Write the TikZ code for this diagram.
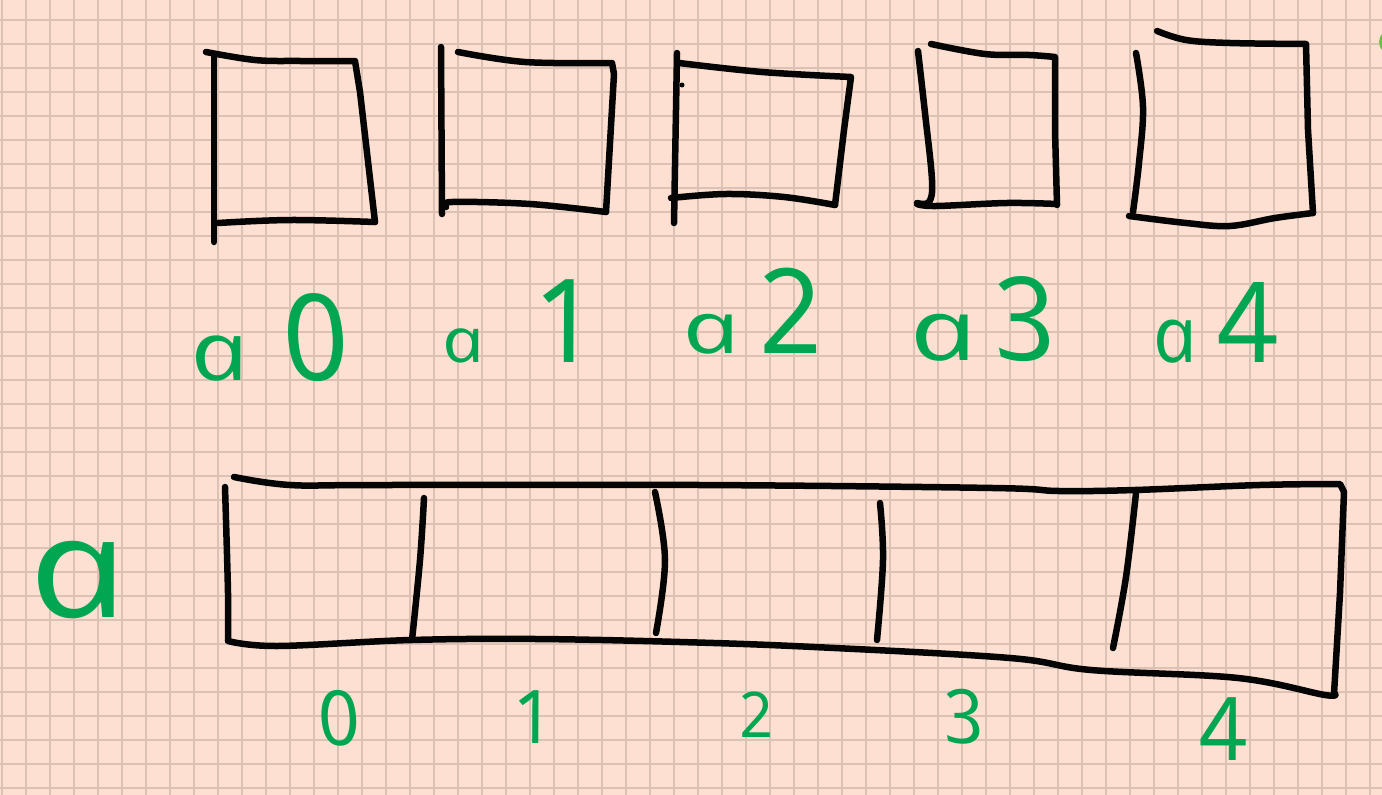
\documentclass[tikz,border=0pt]{standalone}
\usepackage{graphicx}
\usepackage{fontspec}
\setmainfont{Open Sans}[ItalicFeatures={FakeSlant=-0.21}]
\definecolor{paper}{HTML}{FDE0D2}
\definecolor{gridc}{HTML}{DCC2B5}
\definecolor{ink}{HTML}{050505}
\definecolor{pen}{HTML}{00A651}
\definecolor{knob}{HTML}{6DBE45}
\newcommand{\wa}[1]{\scalebox{#1}[1]{a}}
\begin{document}
\begin{tikzpicture}[x=1pt,y=-1pt,
  stroke/.style={draw=ink, line width=6.5pt, line cap=round, line join=round},
  gridline/.style={draw=gridc, line width=1.6pt},
  lbl/.style={text=pen, inner sep=0pt, outer sep=0pt, font=\itshape}]
\fill[paper] (0,0) rectangle (1382,795);
\useasboundingbox (0,0) rectangle (1382,795);
% grid paper
\foreach \x in {2,26,...,1382} \draw[gridline] (\x,0) -- (\x,795);
\foreach \y in {20,44,...,795} \draw[gridline] (0,\y) -- (1382,\y);
% partial control at right edge
\fill[knob] (1392,42) circle (13);

% ---------- top: five separate boxes ----------
% a0
\draw[stroke] (214,57) -- (214,242);
\draw[stroke] plot[smooth,tension=0.6] coordinates {(206,52) (255,60) (300,61) (355,61)} -- (360,92) -- (375,222);
\draw[stroke] plot[smooth,tension=0.6] coordinates {(218,223) (290,220) (375,222)};
% a1
\draw[stroke] (441,47) -- (442,214);
\draw[stroke] plot[smooth,tension=0.6] coordinates {(458,52) (525,62) (612,63)} -- (614,74) -- (606,212);
\draw[stroke] plot[smooth,tension=0.6] coordinates {(446,207) (452,202) (530,204) (606,212)};
% a2
\draw[stroke] (677,53) -- (674,223);
\draw[stroke] plot[smooth,tension=0.6] coordinates {(679,63) (762,72) (851,77)} -- (844,130) -- (835,205);
\draw[stroke] plot[smooth,tension=0.6] coordinates {(671,198) (726,194) (784,197) (835,205)};
\fill[ink] (682,85) circle (2.5);
% a3
\draw[stroke] plot[smooth,tension=0.6] coordinates {(918,51) (925,113) (932,180) (929,202) (917,203)};
\draw[stroke] plot[smooth,tension=0.6] coordinates {(931,44) (985,54) (1029,55) (1055,57)} -- (1055,130) -- (1057,205);
\draw[stroke] plot[smooth,tension=0.6] coordinates {(917,204) (936,206) (1007,203) (1057,204)};
% a4
\draw[stroke] plot[smooth,tension=0.6] coordinates {(1136,53) (1143,107) (1139,163) (1133,212)};
\draw[stroke] plot[smooth,tension=0.6] coordinates {(1157,31) (1186,40) (1230,43) (1306,44)} -- (1308,130) -- (1313,213);
\draw[stroke] plot[smooth,tension=0.6] coordinates {(1129,216) (1186,223) (1230,226) (1275,218) (1313,213)};

% top labels
\node[lbl, anchor=base west] (la0) at (196,380)
  {\fontsize{82}{82}\selectfont \wa{1.25}\hspace{36pt}\fontsize{120}{120}\selectfont 0};
\node[lbl, anchor=base west] (la1) at (446,362)
  {\fontsize{62}{62}\selectfont \wa{1.2}\hspace{52pt}\fontsize{116}{116}\selectfont 1};
\node[lbl, anchor=base west] (la2) at (688,353)
  {\fontsize{72}{72}\selectfont \wa{1.4}\hspace{19pt}\fontsize{118}{118}\selectfont 2};
\node[lbl, anchor=base west] (la3) at (916,360)
  {\fontsize{85}{85}\selectfont \wa{1.4}\hspace{16pt}\fontsize{116}{116}\selectfont 3};
\node[lbl, anchor=base west] (la4) at (1157,362)
  {\fontsize{78}{78}\selectfont \wa{1.0}\hspace{21pt}\fontsize{112}{112}\selectfont 4};

% ---------- bottom: array a ----------
\draw[stroke] plot[smooth,tension=0.6] coordinates {(225,487) (228,593) (228,640)};
\draw[stroke] plot[smooth,tension=0.6] coordinates {(234,477) (290,485) (379,485) (700,485) (993,488) (1059,491) (1135,490) (1260,485) (1340,484)}
  -- (1344,492) -- (1340,593) -- (1334,694);
\draw[stroke] plot[smooth,tension=0.6] coordinates {(228,641) (277,646) (411,640) (536,639) (680,642) (814,647) (1010,658) (1091,670) (1238,678) (1325,695) (1334,693)};
% dividers
\draw[stroke] plot[smooth,tension=0.6] coordinates {(424,498) (420,560) (412,640)};
\draw[stroke] plot[smooth,tension=0.6] coordinates {(655,492) (665,560) (656,633)};
\draw[stroke] plot[smooth,tension=0.6] coordinates {(880,503) (883,560) (877,640)};
\draw[stroke] plot[smooth,tension=0.6] coordinates {(1136,493) (1126,577) (1113,648)};

% bottom labels
\node[lbl, anchor=base west] (la) at (38,617) {\fontsize{140}{140}\selectfont \wa{1.25}};
\node[lbl, anchor=base] (i0) at (343,745) {\fontsize{76}{76}\selectfont 0};
\node[lbl, anchor=base] (i1) at (538,743) {\fontsize{74}{74}\selectfont 1};
\node[lbl, anchor=base] (i2) at (760,737) {\fontsize{63}{63}\selectfont 2};
\node[lbl, anchor=base] (i3) at (968,743) {\fontsize{75}{75}\selectfont 3};
\node[lbl, anchor=base] (i4) at (1228,760) {\fontsize{88}{88}\selectfont 4};
\end{tikzpicture}
\end{document}
